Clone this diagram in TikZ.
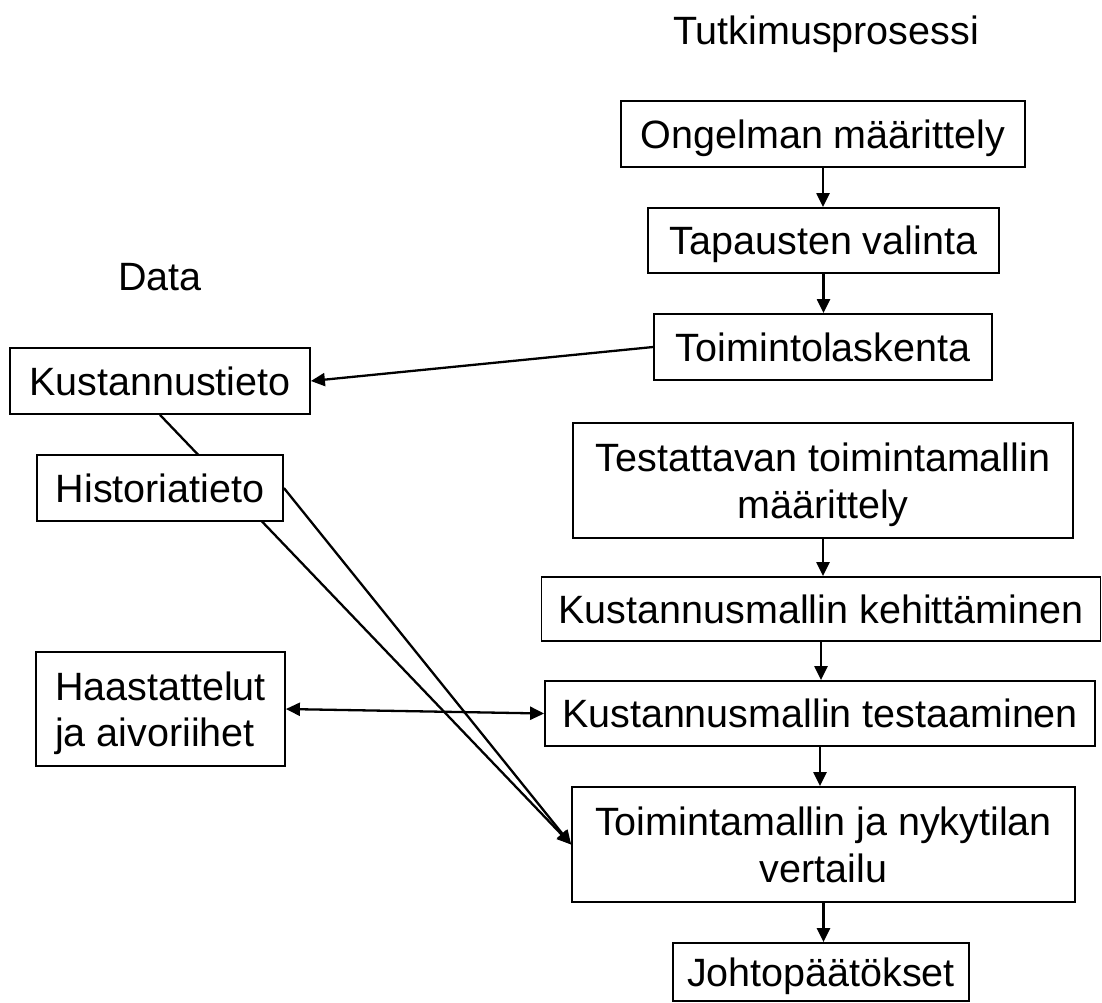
\documentclass[tikz,border=0pt]{standalone}
\usepackage{fontspec}
\setmainfont{Liberation Sans}
\usetikzlibrary{arrows.meta,backgrounds}
\begin{document}
\begin{tikzpicture}[x=1pt,y=-1pt,
  txt/.style={inner sep=0pt,align=center,text height=28pt,text depth=0pt,
    font=\fontsize{39.5}{47}\selectfont},
  twoline/.style={text height=75pt},
  box/.style={txt,draw,line width=1.8pt,fill=white},
  conn/.style={line width=2.3pt,-{Triangle[length=14pt,width=13pt]}},
  dconn/.style={line width=2.3pt,{Triangle[length=14pt,width=13pt]}-{Triangle[length=14pt,width=13pt]}},
]
\useasboundingbox (0,0) rectangle (1102,1002);

% titles
\node[txt] (t1) at (826,30) {Tutkimusprosessi};
\node[txt] (t2) at (160,276) {Data};

% process column
\node[box,minimum width=404pt,minimum height=66pt] (ong) at (823,134) {Ongelman määrittely};
\node[box,minimum width=351pt,minimum height=65pt] (tap) at (823.5,240.5) {Tapausten valinta};
\node[box,minimum width=338pt,minimum height=66pt] (tol) at (823,347) {Toimintolaskenta};
\node[box,twoline,minimum width=500pt,minimum height=115pt] (tes) at (823,480.5) {Testattavan toimintamallin\\määrittely};
\node[box,minimum width=559pt,minimum height=64pt] (keh) at (821,609) {Kustannusmallin kehittäminen};
\node[box,minimum width=550pt,minimum height=65pt] (tst) at (820,713.5) {Kustannusmallin testaaminen};
\node[box,twoline,minimum width=503pt,minimum height=115pt] (ver) at (823.5,844.5) {Toimintamallin ja nykytilan\\vertailu};
\node[box,minimum width=296pt,minimum height=58pt] (joh) at (821,972) {Johtopäätökset};

% data column
\node[box,minimum width=300pt,minimum height=66pt] (kus) at (160,381) {Kustannustieto};
\node[box,minimum width=246pt,minimum height=66pt] (his) at (160,488) {Historiatieto};
\node[box,align=left,text height=74pt,font=\fontsize{39.5}{46}\selectfont,minimum width=249pt,minimum height=114pt] (haa) at (160.5,709) {Haastattelut\\ja aivoriihet};

% line passing behind Historiatieto
\begin{scope}[on background layer]
  \draw[conn] (kus.south) -- (ver.west);
\end{scope}

% process arrows
\draw[conn] (ong.south) -- (ong.south |- tap.north);
\draw[conn] (tap.south) -- (tap.south |- tol.north);
\draw[conn] (tes.south) -- (tes.south |- keh.north);
\draw[conn] (keh.south) -- (keh.south |- tst.north);
\draw[conn] (tst.south) -- (tst.south |- ver.north);
\draw[conn] (ver.south) -- (ver.south |- joh.north);

% cross connectors
\draw[conn] (tol.west) -- (kus.east);
\draw[conn] (his.east) -- (ver.west);
\draw[dconn] (haa.east) -- (tst.west);
\end{tikzpicture}
\end{document}
